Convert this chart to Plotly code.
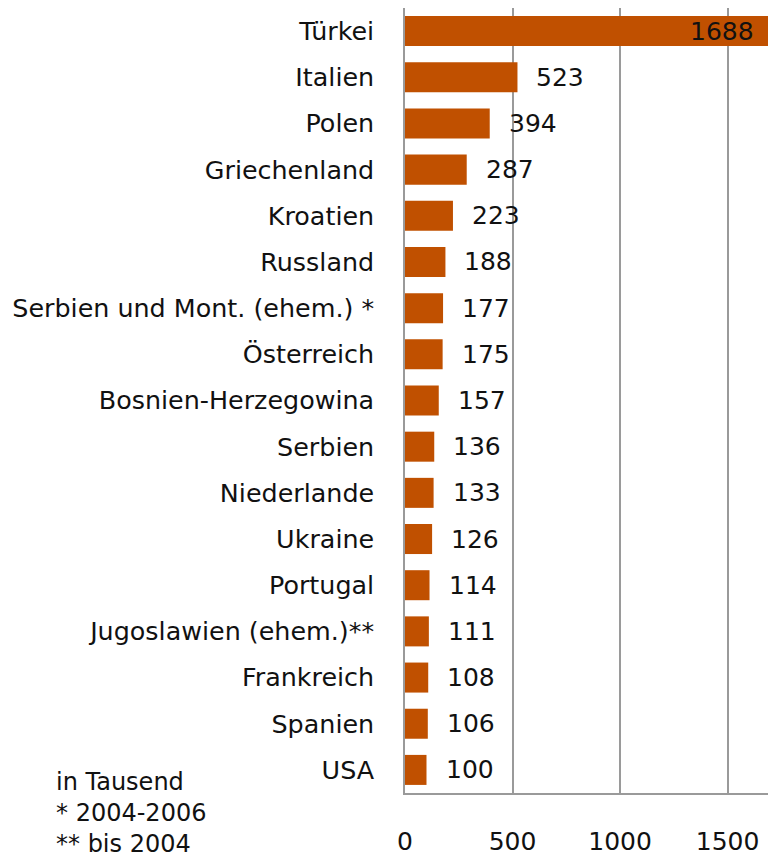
import plotly.graph_objects as go

categories = ["Türkei", "Italien", "Polen", "Griechenland", "Kroatien", "Russland",
              "Serbien und Mont. (ehem.) *", "Österreich", "Bosnien-Herzegowina",
              "Serbien", "Niederlande", "Ukraine", "Portugal", "Jugoslawien (ehem.)**",
              "Frankreich", "Spanien", "USA"]
values = [1688, 523, 394, 287, 223, 188, 177, 175, 157, 136, 133, 126, 114, 111, 108, 106, 100]
x_ticks = [0, 500, 1000, 1500]
note_lines = ["in Tausend", "* 2004-2006", "** bis 2004"]

FONT = "DejaVu Sans"
FS = 25
BAR = "#C05000"
GRID = "#9a9a9a"
TXT = "#111111"

fig = go.Figure(go.Bar(
    y=categories, x=values, orientation="h",
    marker=dict(color=BAR, line=dict(width=0)),
    width=0.65, hoverinfo="skip",
))

xmax = max(values)
annotations = []
for c, v in zip(categories, values):
    if v >= xmax:
        annotations.append(dict(x=v, y=c, xref="x", yref="y", text=str(v),
                                showarrow=False, xanchor="right", xshift=-12,
                                font=dict(family=FONT, size=FS, color=TXT)))
    else:
        annotations.append(dict(x=v, y=c, xref="x", yref="y", text=str(v),
                                showarrow=False, xanchor="left", xshift=17,
                                font=dict(family=FONT, size=FS, color=TXT)))

annotations.append(dict(x=-0.967, y=0.034, xref="paper", yref="paper",
                        text="<br>".join(note_lines), showarrow=False,
                        xanchor="left", yanchor="top", align="left",
                        font=dict(family=FONT, size=24, color=TXT)))

fig.update_layout(
    width=768, height=857,
    margin=dict(l=405, r=0, t=8, b=64),
    paper_bgcolor="white", plot_bgcolor="white",
    showlegend=False,
    font=dict(family=FONT, size=FS, color=TXT),
    annotations=annotations,
)
fig.update_xaxes(range=[0, xmax], tickvals=x_ticks, ticktext=[str(t) for t in x_ticks],
                 showgrid=True, gridcolor=GRID, gridwidth=1.5,
                 showline=True, linecolor=GRID, linewidth=1.5,
                 zeroline=False, ticks="", ticklabelstandoff=25, automargin=False,
                 tickfont=dict(family=FONT, size=FS, color=TXT), fixedrange=True)
fig.update_yaxes(categoryorder="array", categoryarray=categories, autorange="reversed",
                 showgrid=False, showline=True, linecolor=GRID, linewidth=1.5,
                 ticks="", ticklabelstandoff=24, automargin=False,
                 tickfont=dict(family=FONT, size=25.4, color=TXT), fixedrange=True)

fig.write_html("out.html", config={"displayModeBar": False},
               post_script="document.body.style.margin='0';document.body.style.overflow='hidden';")
